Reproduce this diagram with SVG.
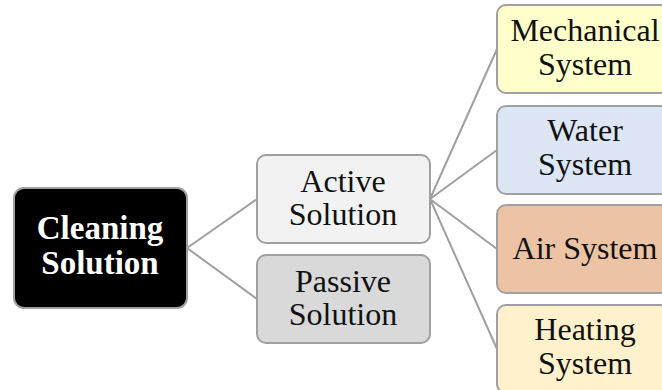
<svg xmlns="http://www.w3.org/2000/svg" width="662" height="390" viewBox="0 0 662 390">
  <style>
    .box { stroke: #a0a0a0; stroke-width: 2; }
    .lbl { font-family: 'Liberation Serif', 'DejaVu Serif', serif; font-size: 32px; fill: #111; text-anchor: middle; }
    .root { font-weight: bold; fill: #fff; font-size: 33px; }
    .link { stroke: #a0a0a0; stroke-width: 2; fill: none; }
  </style>
  <rect width="662" height="390" fill="#fff"/>
  <g id="connectors">
    <path class="link" d="M187 248 L257 199 M187 248 L257 299"/>
    <path class="link" d="M430 199 L497 49 M430 199 L497 150 M430 199 L497 249 M430 199 L497 349"/>
  </g>
  <g id="cleaning">
    <rect class="box" x="14" y="188" width="173" height="120" rx="10" fill="#000"/>
    <text class="lbl root" x="100" y="239">Cleaning</text>
    <text class="lbl root" x="100" y="274">Solution</text>
  </g>
  <g id="active">
    <rect class="box" x="257" y="155" width="173" height="88" rx="9" fill="#f2f2f2"/>
    <text class="lbl" x="343" y="192">Active</text>
    <text class="lbl" x="343" y="225">Solution</text>
  </g>
  <g id="passive">
    <rect class="box" x="257" y="255" width="173" height="88" rx="9" fill="#d9d9d9"/>
    <text class="lbl" x="343" y="292">Passive</text>
    <text class="lbl" x="343" y="325">Solution</text>
  </g>
  <g id="mechanical">
    <rect class="box" x="497" y="5" width="172" height="88" rx="9" fill="#ffffcc"/>
    <text class="lbl" x="585" y="41">Mechanical</text>
    <text class="lbl" x="585" y="75">System</text>
  </g>
  <g id="water">
    <rect class="box" x="497" y="106" width="172" height="88" rx="9" fill="#dce6f4"/>
    <text class="lbl" x="585" y="141">Water</text>
    <text class="lbl" x="585" y="175">System</text>
  </g>
  <g id="air">
    <rect class="box" x="497" y="205" width="172" height="88" rx="9" fill="#ecc3a5"/>
    <text class="lbl" x="585" y="259">Air System</text>
  </g>
  <g id="heating">
    <rect class="box" x="497" y="305" width="172" height="88" rx="9" fill="#fff1cc"/>
    <text class="lbl" x="585" y="340">Heating</text>
    <text class="lbl" x="585" y="374">System</text>
  </g>
</svg>
